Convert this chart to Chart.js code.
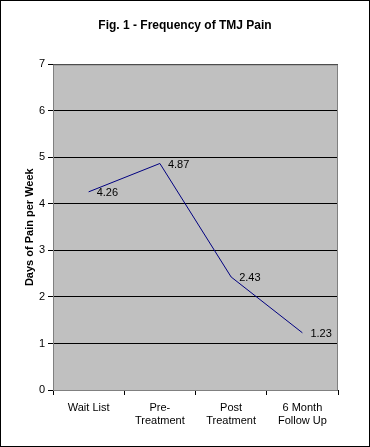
<!DOCTYPE html>
<html>
<head>
<meta charset="utf-8">
<script src="https://cdn.jsdelivr.net/npm/chart.js@4.4.0/dist/chart.umd.min.js"></script>
<style>
  html, body { margin: 0; padding: 0; background: #fff; }
  #wrap { width: 370px; height: 447px; }
</style>
</head>
<body>
<div id="wrap"><canvas id="tmjChart" width="370" height="447"></canvas></div>
<script>
// chart values
const categories = [["Wait List"], ["Pre-", "Treatment"], ["Post", "Treatment"], ["6 Month", "Follow Up"]];
const painDays = [4.26, 4.87, 2.43, 1.23];
const yTicks = [0, 1, 2, 3, 4, 5, 6, 7];

const FONT = "Arial, 'Liberation Sans', sans-serif";

// grey plot area, outer frame and point labels
const excelLook = {
    id: 'excelLook',
    beforeDraw(chart) {
        const ctx = chart.ctx;
        const a = chart.chartArea;
        ctx.save();
        ctx.fillStyle = '#fff';
        ctx.fillRect(0, 0, chart.width, chart.height);
        ctx.fillStyle = '#c0c0c0';
        ctx.fillRect(a.left, a.top, a.right - a.left, a.bottom - a.top);
        ctx.restore();
    },
    afterDatasetsDraw(chart) {
        const ctx = chart.ctx;
        const a = chart.chartArea;
        const meta = chart.getDatasetMeta(0);
        ctx.save();
        ctx.strokeStyle = '#808080';
        ctx.lineWidth = 1;
        ctx.strokeRect(a.left + 0.5, a.top + 0.5, a.right - a.left - 1, a.bottom - a.top);
        ctx.font = '11px ' + FONT;
        ctx.fillStyle = '#000';
        ctx.textBaseline = 'middle';
        ctx.textAlign = 'left';
        meta.data.forEach((pt, i) => {
            ctx.fillText(painDays[i].toFixed(2), pt.x + 8, pt.y + 1);
        });
        ctx.strokeStyle = '#000';
        ctx.strokeRect(0.5, 0.5, chart.width - 1, chart.height - 1);
        ctx.restore();
    }
};

const ctx = document.getElementById('tmjChart').getContext('2d');
const tmjChart = new Chart(ctx, {
    type: 'line',
    data: {
        labels: categories,
        datasets: [{
            data: painDays,
            borderColor: '#000080',
            borderWidth: 1,
            pointRadius: 0,
            tension: 0,
            fill: false
        }]
    },
    options: {
        responsive: false,
        animation: false,
        layout: { padding: 0 },
        plugins: {
            legend: { display: false },
            tooltip: { enabled: false },
            title: {
                display: true,
                text: 'Fig. 1 - Frequency of TMJ Pain',
                color: '#000',
                font: { family: FONT, size: 12, weight: 'bold' },
                padding: { top: 18, bottom: 32 }
            }
        },
        scales: {
            x: {
                offset: true,
                grid: {
                    offset: true,
                    drawOnChartArea: false,
                    color: '#000',
                    tickLength: 5
                },
                border: { color: '#000' },
                ticks: {
                    color: '#000',
                    font: { family: FONT, size: 11 },
                    maxRotation: 0,
                    padding: 6
                },
                afterFit(scale) { scale.height = 57; }
            },
            y: {
                min: 0,
                max: 7,
                afterBuildTicks(scale) { scale.ticks = yTicks.map(v => ({ value: v })); },
                grid: {
                    color: '#000',
                    tickLength: 5,
                    drawTicks: true
                },
                border: { color: '#000' },
                ticks: {
                    color: '#000',
                    font: { family: FONT, size: 11 },
                    padding: 3
                },
                title: {
                    display: true,
                    text: 'Days of Pain per Week',
                    color: '#000',
                    font: { family: FONT, size: 11, weight: 'bold' },
                    padding: { top: 23, bottom: 0 }
                },
                afterFit(scale) { scale.width = 53; }
            },
            // empty right-hand axis, only keeps the right margin
            yRight: {
                position: 'right',
                min: 0,
                max: 7,
                grid: { display: false },
                border: { display: false },
                ticks: { display: false },
                afterFit(scale) { scale.width = 32; }
            }
        }
    },
    plugins: [excelLook]
});
</script>
</body>
</html>
